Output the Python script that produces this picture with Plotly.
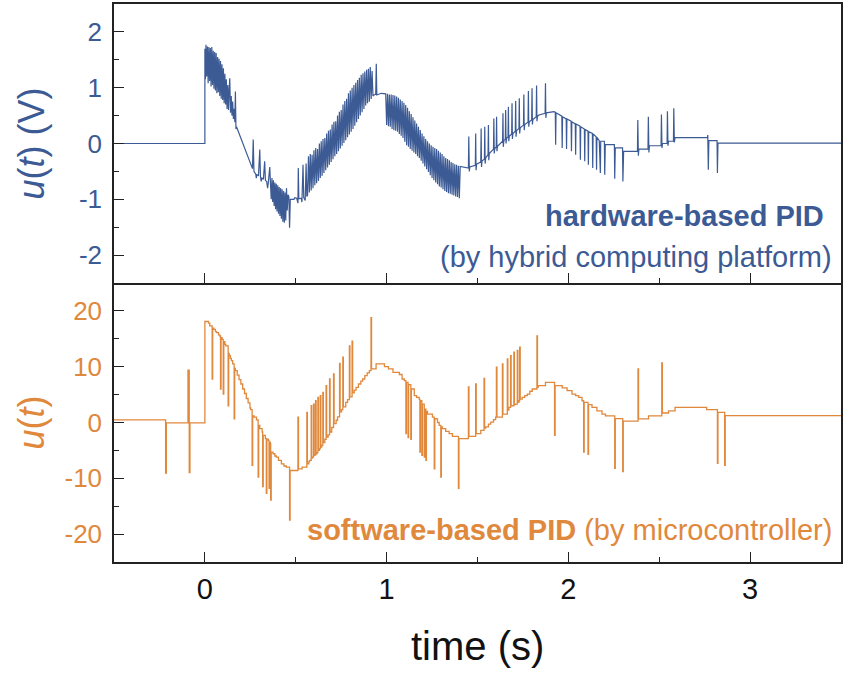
import plotly.graph_objects as go
from plotly.subplots import make_subplots

BLUE = "#3C5A94"
ORANGE = "#E0883C"

# ---------------- data ----------------
# hardware-based PID output u(t) in V, polyline (t [s], u [V])
hardware = [
    (-0.500, 0.00), (0.000, 0.00), (0.000, 1.70),
    (0.003, 1.15), (0.006, 1.77), (0.010, 1.20), (0.014, 1.74), (0.018, 1.08), (0.022, 1.73),
    (0.026, 1.12), (0.030, 1.71), (0.034, 1.02), (0.038, 1.73), (0.042, 1.05), (0.046, 1.66),
    (0.050, 0.98), (0.054, 1.64), (0.058, 0.95), (0.062, 1.62), (0.066, 0.90), (0.070, 1.55),
    (0.074, 0.92), (0.078, 1.52), (0.082, 0.85), (0.086, 1.48), (0.090, 0.80), (0.094, 1.42),
    (0.098, 0.78), (0.102, 1.35), (0.106, 0.72), (0.110, 1.25), (0.114, 0.70), (0.118, 1.15),
    (0.122, 0.62), (0.126, 1.05), (0.130, 0.60), (0.134, 0.98), (0.137, 1.17), (0.141, 0.55),
    (0.145, 0.85), (0.149, 0.50), (0.153, 0.75), (0.157, 0.44), (0.161, 0.62), (0.165, 0.38),
    (0.168, 0.93), (0.171, 0.26), (0.174, 0.30),
    (0.262, -0.45),
    (0.266, 0.07), (0.270, -0.50), (0.280, -0.55), (0.283, -0.62), (0.286, -0.56), (0.295, -0.58),
    (0.302, -0.11), (0.306, -0.60), (0.310, -0.68), (0.314, -0.62), (0.322, -0.64), (0.329, -0.32),
    (0.333, -0.66), (0.340, -0.68), (0.345, -0.80), (0.349, -0.70), (0.357, -0.42), (0.361, -0.72),
    (0.365, -1.00), (0.369, -0.62), (0.373, -1.05), (0.377, -0.66), (0.381, -1.12), (0.385, -0.70),
    (0.389, -1.18), (0.393, -0.72), (0.397, -1.22), (0.401, -0.75), (0.405, -1.26), (0.409, -0.78),
    (0.413, -1.30), (0.417, -0.80), (0.421, -1.35), (0.425, -0.82), (0.429, -1.40), (0.433, -0.85),
    (0.437, -1.42), (0.441, -0.88), (0.445, -1.38), (0.449, -0.80), (0.453, -1.20), (0.457, -0.92),
    (0.462, -0.95), (0.466, -1.51), (0.470, -1.00),
    (0.490, -1.00), (0.495, -0.97), (0.505, -0.98), (0.512, -1.07), (0.514, -0.44), (0.517, -0.99),
    (0.530, -0.98), (0.534, -1.05), (0.540, -0.38), (0.544, -0.97), (0.552, -1.02), (0.557, -0.36),
    (0.561, -0.95),
    (0.565, -0.93), (0.570, -0.23), (0.575, -0.88), (0.580, -0.19), (0.585, -0.84), (0.590, -0.20),
    (0.595, -0.80), (0.600, -0.12), (0.605, -0.75), (0.610, -0.08), (0.615, -0.71), (0.620, -0.10),
    (0.625, -0.67), (0.630, 0.00), (0.635, -0.62), (0.640, 0.04), (0.645, -0.58), (0.650, 0.08),
    (0.655, -0.53), (0.660, 0.10), (0.665, -0.48), (0.670, 0.18), (0.675, -0.43), (0.680, 0.23),
    (0.685, -0.38), (0.690, 0.25), (0.695, -0.33), (0.700, 0.34), (0.705, -0.28), (0.710, 0.39),
    (0.715, -0.23), (0.720, 0.40), (0.725, -0.19), (0.730, 0.50), (0.735, -0.14), (0.740, 0.57),
    (0.745, -0.09), (0.750, 0.60), (0.755, -0.04), (0.760, 0.70), (0.765, 0.01), (0.770, 0.76),
    (0.775, 0.06), (0.780, 0.80), (0.785, 0.11), (0.790, 0.90), (0.795, 0.16), (0.800, 0.95),
    (0.805, 0.21), (0.810, 1.00), (0.815, 0.26), (0.820, 1.05), (0.825, 0.32), (0.830, 1.09),
    (0.835, 0.38), (0.840, 1.14), (0.845, 0.44), (0.850, 1.18), (0.855, 0.50), (0.860, 1.23),
    (0.865, 0.56), (0.870, 1.26), (0.875, 0.62), (0.880, 1.29), (0.885, 0.68), (0.890, 1.32),
    (0.895, 0.72), (0.900, 1.34), (0.905, 0.75), (0.910, 1.37), (0.915, 0.80), (0.920, 1.30),
    (0.925, 0.85), (0.930, 0.87), (0.940, 0.88), (0.943, 1.43), (0.946, 0.87), (0.970, 0.90),
    (0.995, 0.89), (1.000, 0.33), (1.005, 0.89), (1.010, 0.31), (1.015, 0.88), (1.020, 0.30),
    (1.025, 0.88), (1.030, 0.26), (1.035, 0.87), (1.040, 0.24), (1.045, 0.86), (1.050, 0.23),
    (1.055, 0.84), (1.060, 0.21), (1.065, 0.82), (1.070, 0.17), (1.075, 0.79), (1.080, 0.14),
    (1.085, 0.76), (1.090, 0.10), (1.095, 0.73), (1.100, 0.03), (1.105, 0.69), (1.110, -0.03),
    (1.115, 0.64), (1.120, -0.06), (1.125, 0.58), (1.130, -0.10), (1.135, 0.53), (1.140, -0.13),
    (1.145, 0.47), (1.150, -0.16), (1.155, 0.41), (1.160, -0.19), (1.165, 0.36), (1.170, -0.23),
    (1.175, 0.30), (1.180, -0.26), (1.185, 0.24), (1.190, -0.31), (1.195, 0.18), (1.200, -0.36),
    (1.205, 0.13), (1.210, -0.41), (1.215, 0.08), (1.220, -0.46), (1.225, 0.04), (1.230, -0.51),
    (1.235, 0.00), (1.240, -0.57), (1.245, -0.03), (1.250, -0.62), (1.255, -0.06), (1.260, -0.66),
    (1.265, -0.08), (1.270, -0.70), (1.275, -0.10), (1.280, -0.73), (1.285, -0.13), (1.290, -0.77),
    (1.295, -0.16), (1.300, -0.79), (1.305, -0.19), (1.310, -0.82), (1.315, -0.23), (1.320, -0.85),
    (1.325, -0.26), (1.330, -0.87), (1.335, -0.28), (1.340, -0.89), (1.345, -0.30), (1.350, -0.90),
    (1.355, -0.33), (1.360, -0.92), (1.365, -0.35), (1.370, -0.93), (1.375, -0.37), (1.380, -0.95),
    (1.385, -0.38), (1.390, -0.96), (1.395, -0.40), (1.400, -0.98), (1.405, -0.41),
    (1.450, -0.44), (1.452, 0.125), (1.455, -0.50), (1.458, -0.42), (1.488, -0.39), (1.490, 0.18),
    (1.492, -0.48), (1.495, -0.37), (1.518, -0.33), (1.520, 0.27), (1.522, -0.42), (1.525, -0.31),
    (1.538, -0.28), (1.540, 0.30), (1.542, -0.36), (1.545, -0.26), (1.558, -0.20), (1.560, 0.33),
    (1.562, -0.30), (1.565, -0.18), (1.588, -0.10), (1.590, 0.45), (1.592, -0.18), (1.595, -0.09),
    (1.603, -0.06), (1.605, 0.48), (1.607, -0.14), (1.610, -0.05), (1.638, 0.04), (1.640, 0.54),
    (1.642, -0.06), (1.645, 0.05), (1.653, 0.08), (1.655, 0.60), (1.657, 0.00), (1.660, 0.09),
    (1.668, 0.12), (1.670, 0.66), (1.672, 0.04), (1.675, 0.13), (1.688, 0.17), (1.690, 0.72),
    (1.692, 0.08), (1.695, 0.18), (1.708, 0.22), (1.710, 0.76), (1.712, 0.12), (1.715, 0.23),
    (1.728, 0.27), (1.730, 0.81), (1.732, 0.18), (1.735, 0.28), (1.753, 0.33), (1.755, 0.88),
    (1.757, 0.24), (1.760, 0.34), (1.778, 0.38), (1.780, 0.94), (1.782, 0.30), (1.785, 0.39),
    (1.798, 0.42), (1.800, 0.99), (1.802, 0.34), (1.805, 0.43), (1.823, 0.48), (1.825, 1.04),
    (1.827, 0.40), (1.830, 0.49), (1.838, 0.51), (1.872, 0.54), (1.874, 1.08), (1.876, 0.46),
    (1.879, 0.55), (1.920, 0.57),
    (1.928, 0.56), (1.930, -0.02), (1.932, 0.55), (1.964, 0.49), (1.966, -0.08), (1.968, 0.48),
    (1.988, 0.44), (1.990, -0.10), (1.992, 0.44), (2.015, 0.40), (2.017, -0.14), (2.019, 0.39),
    (2.038, 0.35), (2.040, -0.20), (2.042, 0.35), (2.064, 0.31), (2.066, -0.29), (2.068, 0.30),
    (2.088, 0.26), (2.090, -0.32), (2.092, 0.25), (2.108, 0.22), (2.110, -0.38), (2.112, 0.21),
    (2.132, 0.18), (2.134, -0.44), (2.136, 0.17), (2.153, 0.12), (2.155, -0.47), (2.157, 0.11),
    (2.170, 0.05), (2.176, -0.53), (2.178, 0.04), (2.198, 0.04), (2.200, -0.56), (2.203, -0.02),
    (2.253, -0.02), (2.255, -0.63), (2.258, -0.08), (2.298, -0.08), (2.300, -0.68), (2.304, -0.14),
    (2.380, -0.14), (2.382, 0.42), (2.385, -0.22), (2.388, -0.10), (2.438, -0.10), (2.440, 0.48),
    (2.443, -0.16), (2.446, -0.04), (2.510, -0.04), (2.512, 0.52), (2.515, -0.08), (2.518, 0.00),
    (2.543, 0.00), (2.545, 0.58), (2.548, -0.04), (2.551, 0.04), (2.578, 0.04), (2.580, 0.63),
    (2.583, 0.02), (2.587, 0.107), (2.765, 0.107), (2.767, 0.15), (2.770, -0.47), (2.773, 0.05),
    (2.818, 0.05), (2.820, -0.53), (2.823, 0.006), (3.500, 0.006),
]

# software-based PID output u(t), step-wise samples (t [s], u held until next t)
software = [
    (-0.500, 0.48), (-0.216, -9.05), (-0.212, -0.05), (-0.093, 9.4), (-0.086, -9.0), (-0.082, -0.06),
    (0.000, 18.1), (0.020, 17.8), (0.027, 17.3), (0.040, 7.8), (0.043, 16.9), (0.049, 16.7),
    (0.058, 16.3), (0.064, 16.1), (0.075, 15.7), (0.082, 15.5), (0.086, 6.0), (0.089, 15.2),
    (0.095, 14.9), (0.101, 5.1), (0.104, 14.5), (0.110, 14.0), (0.115, 13.75), (0.128, 3.0),
    (0.131, 12.4), (0.134, 12.0), (0.140, 11.5), (0.146, 11.1), (0.153, 10.5), (0.161, 0.66),
    (0.164, 9.7), (0.168, 9.3), (0.178, 8.5), (0.188, 7.7), (0.198, 6.9), (0.208, 6.0),
    (0.218, 5.2), (0.228, 4.3), (0.238, 3.5), (0.248, 2.6), (0.252, 2.3),
    (0.260, -7.7), (0.263, 1.2), (0.271, 0.95), (0.284, 0.48), (0.293, -9.8), (0.296, -0.5),
    (0.302, -1.1), (0.315, -1.7), (0.318, -11.5), (0.321, -2.3), (0.333, -2.9), (0.338, -12.7),
    (0.341, -3.0), (0.349, -3.2), (0.353, -11.8), (0.356, -3.5), (0.360, -3.8), (0.362, -13.9),
    (0.365, -5.3), (0.375, -5.6), (0.385, -6.0), (0.393, -6.2), (0.405, -6.8), (0.421, -7.4),
    (0.435, -7.8), (0.448, -8.0), (0.466, -17.5), (0.469, -8.6), (0.512, 0.95), (0.515, -8.3),
    (0.535, -8.0), (0.561, 1.8), (0.564, -7.4), (0.572, -7.0), (0.576, -6.8), (0.585, 3.0),
    (0.588, -6.4), (0.592, -6.2), (0.598, 3.3), (0.601, -5.9), (0.605, -5.8), (0.609, 3.9),
    (0.612, -5.6), (0.617, -5.4), (0.622, 4.5), (0.625, -5.0), (0.630, -4.7), (0.635, 4.8),
    (0.638, -4.4), (0.643, -4.1), (0.649, 5.4), (0.652, -3.6), (0.660, -3.0), (0.667, 6.6),
    (0.670, -2.6), (0.678, -2.2), (0.686, 7.8), (0.689, -1.7), (0.698, -0.9), (0.708, 8.7),
    (0.711, -0.2), (0.722, 0.4), (0.730, 1.0), (0.741, 10.6), (0.744, 1.9), (0.752, 2.3),
    (0.759, 11.7), (0.762, 2.8), (0.775, 3.6), (0.785, 4.1), (0.795, 13.75), (0.798, 4.6),
    (0.810, 14.6), (0.813, 5.3), (0.822, 5.8), (0.832, 6.3), (0.845, 6.9), (0.858, 7.4),
    (0.868, 7.8), (0.880, 8.4), (0.893, 8.9), (0.905, 9.3), (0.914, 18.8), (0.917, 9.6),
    (0.942, 10.5), (0.988, 10.0), (1.010, 9.6), (1.035, 9.0), (1.050, 9.0), (1.070, 8.6),
    (1.085, 7.8), (1.097, 7.5), (1.106, -2.0), (1.109, 7.2), (1.118, -2.7), (1.121, 6.8),
    (1.133, -3.0), (1.136, 6.0), (1.152, 4.8), (1.165, 4.5), (1.179, 4.2), (1.183, -5.3),
    (1.186, 3.9), (1.194, -5.9), (1.197, 3.3), (1.207, -6.2), (1.210, 2.4), (1.216, -6.8),
    (1.219, 2.0), (1.225, 1.5), (1.252, 0.95), (1.262, -8.3), (1.265, 0.7), (1.271, 0.66),
    (1.280, 0.0), (1.289, -0.5), (1.298, -9.8), (1.301, -0.8), (1.307, -1.1), (1.325, -1.6),
    (1.344, -2.0), (1.362, -2.5), (1.395, -11.8), (1.398, -2.9), (1.450, 6.4), (1.453, -2.5),
    (1.490, 6.9), (1.493, -2.0), (1.518, -1.4), (1.536, 7.9), (1.539, -1.0), (1.545, -0.8),
    (1.560, -0.3), (1.573, 0.06), (1.588, 0.5), (1.600, 0.95), (1.604, 9.9), (1.607, 0.95),
    (1.637, 10.5), (1.640, 1.5), (1.664, 11.4), (1.667, 2.2), (1.673, 2.7), (1.682, 12.0),
    (1.685, 3.0), (1.700, 12.6), (1.703, 3.2), (1.709, 3.3), (1.719, 12.9), (1.722, 3.6),
    (1.728, 3.9), (1.732, 13.5), (1.735, 4.2), (1.746, 4.5), (1.760, 4.8), (1.774, 5.1),
    (1.788, 5.6), (1.801, 6.0), (1.827, 15.5), (1.830, 6.3), (1.834, 6.6), (1.874, 7.2),
    (1.924, -2.3), (1.927, 6.6), (1.966, 6.2), (1.993, 5.7), (2.020, 5.1), (2.040, 4.8),
    (2.057, 4.5), (2.075, 3.9), (2.084, -5.3), (2.087, 3.6), (2.108, -5.7), (2.111, 3.2),
    (2.130, 2.7), (2.157, 2.1), (2.185, 1.5), (2.204, 1.2), (2.255, -8.2), (2.258, 0.71),
    (2.299, -8.8), (2.302, 0.24), (2.383, 9.6), (2.386, 0.65), (2.441, 1.2), (2.514, 10.7),
    (2.517, 1.7), (2.551, 2.1), (2.587, 2.7), (2.761, 2.3), (2.820, -7.3), (2.823, 1.8),
    (2.860, -7.7), (2.863, 1.25), (3.500, 1.25),
]

hw_t = [p[0] for p in hardware]
hw_u = [p[1] for p in hardware]
sw_t = [p[0] for p in software]
sw_u = [p[1] for p in software]

x_ticks = [0, 1, 2, 3]
x_minor = [-0.5, 0.5, 1.5, 2.5, 3.5]
top_ticks = [-2, -1, 0, 1, 2]
top_ticktext = ["-2", "-1", "0", "1", "2"]
top_minor = [-1.5, -0.5, 0.5, 1.5]
bot_ticks = [-20, -10, 0, 10, 20]
bot_ticktext = ["-20", "-10", "0", "10", "20"]
bot_minor = [-15, -5, 5, 15]

# ---------------- figure ----------------
FONT = "Liberation Sans, Arial, Helvetica, sans-serif"
fig = make_subplots(rows=2, cols=1, shared_xaxes=True, vertical_spacing=0)

fig.add_trace(go.Scatter(x=hw_t, y=hw_u, mode="lines",
                         line=dict(color=BLUE, width=1.2), showlegend=False), row=1, col=1)
fig.add_trace(go.Scatter(x=sw_t, y=sw_u, mode="lines", line_shape="hv",
                         line=dict(color=ORANGE, width=1.3), showlegend=False), row=2, col=1)

axis_common = dict(showline=True, linecolor="#222222", linewidth=1.5,
                   showgrid=False, zeroline=False, ticks="inside", ticklen=10,
                   tickwidth=1.3, tickcolor="#222222")
minor_x = dict(tickmode="array", tickvals=x_minor, ticks="inside",
               ticklen=5, tickwidth=1.2, tickcolor="#222222")

# top panel x axis: its line is the shared middle boundary, mirrored to the top border
fig.update_xaxes(range=[-0.5, 3.5], tickmode="array", tickvals=x_ticks, minor=minor_x,
                 showticklabels=False, mirror=True, row=1, col=1, **axis_common)
# bottom panel x axis
fig.update_xaxes(range=[-0.5, 3.5], tickmode="array", tickvals=x_ticks, minor=minor_x,
                 tickfont=dict(family=FONT, size=29, color="#111111"),
                 ticklabelstandoff=0, mirror=False, row=2, col=1, **axis_common)

fig.update_yaxes(range=[-2.5, 2.5], tickmode="array", tickvals=top_ticks, ticktext=top_ticktext,
                 minor=dict(tickmode="array", tickvals=top_minor, ticks="inside",
                            ticklen=5, tickwidth=1.2, tickcolor="#222222"),
                 tickfont=dict(family=FONT, size=26, color=BLUE), ticklabelstandoff=5,
                 mirror=True, row=1, col=1, **axis_common)
fig.update_yaxes(range=[-25, 25], tickmode="array", tickvals=bot_ticks, ticktext=bot_ticktext,
                 minor=dict(tickmode="array", tickvals=bot_minor, ticks="inside",
                            ticklen=5, tickwidth=1.2, tickcolor="#222222"),
                 tickfont=dict(family=FONT, size=26, color=ORANGE), ticklabelstandoff=5,
                 mirror=True, row=2, col=1, **axis_common)

annotations = [
    dict(text="<i>u</i>(<i>t</i>) (V)", x=-0.114, y=0.75, textangle=-90,
         font=dict(family=FONT, size=36, color=BLUE)),
    dict(text="<i>u</i>(<i>t</i>)", x=-0.114, y=0.25, textangle=-90,
         font=dict(family=FONT, size=36, color=ORANGE)),
    dict(text="time (s)", x=0.5, y=-0.150,
         font=dict(family=FONT, size=40, color="#111111")),
    dict(text="<b>hardware-based PID</b>", x=0.979, y=0.62, xanchor="right",
         font=dict(family=FONT, size=29, color=BLUE)),
    dict(text="(by hybrid computing platform)", x=0.990, y=0.546, xanchor="right",
         font=dict(family=FONT, size=29, color=BLUE)),
    dict(text="<b>software-based PID</b> (by microcontroller)", x=0.990, y=0.057, xanchor="right",
         font=dict(family=FONT, size=29, color=ORANGE)),
]
for a in annotations:
    a.setdefault("xanchor", "center")
    a.update(xref="paper", yref="paper", yanchor="middle", showarrow=False)

fig.update_layout(width=845, height=674, margin=dict(l=114, r=2, t=2, b=112),
                  plot_bgcolor="white", paper_bgcolor="white",
                  annotations=annotations, font=dict(family=FONT))

fig.write_html("out.html", config={"displayModeBar": False},
               post_script="document.body.style.margin='0';document.body.style.padding='0';")
